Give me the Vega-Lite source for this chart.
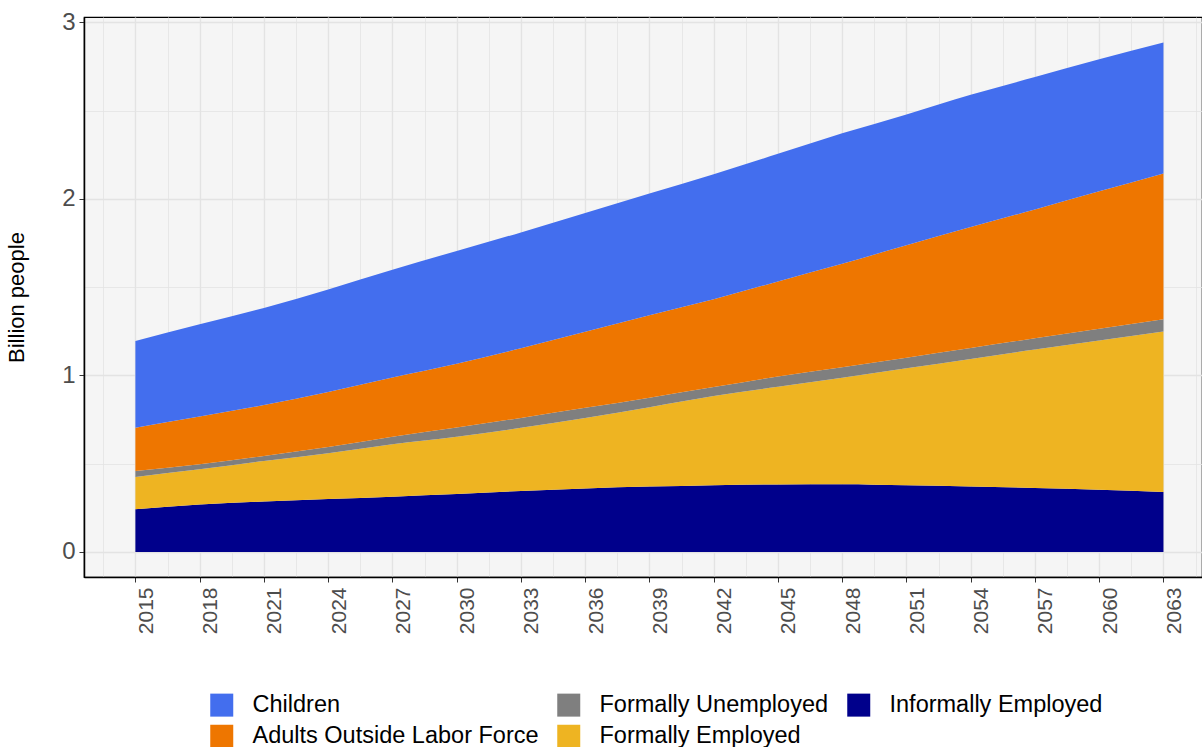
{
  "$schema": "https://vega.github.io/schema/vega-lite/v6.json",
  "width": 1118,
  "height": 560,
  "autosize": {"type": "none"},
  "padding": {"left": 84, "top": 17, "right": 0, "bottom": 170},
  "background": "white",
  "config": {
    "view": {"fill": "#F5F5F5", "stroke": "black", "strokeWidth": 1.2},
    "font": "Liberation Sans"
  },
  "data": {
    "values": [
      {"year": 2015, "group": "Informally Employed", "value": 0.242},
      {"year": 2015, "group": "Formally Employed", "value": 0.183},
      {"year": 2015, "group": "Formally Unemployed", "value": 0.034},
      {"year": 2015, "group": "Adults Outside Labor Force", "value": 0.245},
      {"year": 2015, "group": "Children", "value": 0.491},
      {"year": 2018, "group": "Informally Employed", "value": 0.268},
      {"year": 2018, "group": "Formally Employed", "value": 0.200},
      {"year": 2018, "group": "Formally Unemployed", "value": 0.029},
      {"year": 2018, "group": "Adults Outside Labor Force", "value": 0.270},
      {"year": 2018, "group": "Children", "value": 0.522},
      {"year": 2021, "group": "Informally Employed", "value": 0.286},
      {"year": 2021, "group": "Formally Employed", "value": 0.229},
      {"year": 2021, "group": "Formally Unemployed", "value": 0.029},
      {"year": 2021, "group": "Adults Outside Labor Force", "value": 0.288},
      {"year": 2021, "group": "Children", "value": 0.550},
      {"year": 2024, "group": "Informally Employed", "value": 0.300},
      {"year": 2024, "group": "Formally Employed", "value": 0.259},
      {"year": 2024, "group": "Formally Unemployed", "value": 0.036},
      {"year": 2024, "group": "Adults Outside Labor Force", "value": 0.311},
      {"year": 2024, "group": "Children", "value": 0.581},
      {"year": 2027, "group": "Informally Employed", "value": 0.313},
      {"year": 2027, "group": "Formally Employed", "value": 0.297},
      {"year": 2027, "group": "Formally Unemployed", "value": 0.043},
      {"year": 2027, "group": "Adults Outside Labor Force", "value": 0.335},
      {"year": 2027, "group": "Children", "value": 0.610},
      {"year": 2030, "group": "Informally Employed", "value": 0.328},
      {"year": 2030, "group": "Formally Employed", "value": 0.324},
      {"year": 2030, "group": "Formally Unemployed", "value": 0.053},
      {"year": 2030, "group": "Adults Outside Labor Force", "value": 0.361},
      {"year": 2030, "group": "Children", "value": 0.639},
      {"year": 2033, "group": "Informally Employed", "value": 0.345},
      {"year": 2033, "group": "Formally Employed", "value": 0.358},
      {"year": 2033, "group": "Formally Unemployed", "value": 0.056},
      {"year": 2033, "group": "Adults Outside Labor Force", "value": 0.395},
      {"year": 2033, "group": "Children", "value": 0.656},
      {"year": 2036, "group": "Informally Employed", "value": 0.360},
      {"year": 2036, "group": "Formally Employed", "value": 0.399},
      {"year": 2036, "group": "Formally Unemployed", "value": 0.057},
      {"year": 2036, "group": "Adults Outside Labor Force", "value": 0.431},
      {"year": 2036, "group": "Children", "value": 0.673},
      {"year": 2039, "group": "Informally Employed", "value": 0.370},
      {"year": 2039, "group": "Formally Employed", "value": 0.450},
      {"year": 2039, "group": "Formally Unemployed", "value": 0.054},
      {"year": 2039, "group": "Adults Outside Labor Force", "value": 0.466},
      {"year": 2039, "group": "Children", "value": 0.690},
      {"year": 2042, "group": "Informally Employed", "value": 0.378},
      {"year": 2042, "group": "Formally Employed", "value": 0.505},
      {"year": 2042, "group": "Formally Unemployed", "value": 0.051},
      {"year": 2042, "group": "Adults Outside Labor Force", "value": 0.497},
      {"year": 2042, "group": "Children", "value": 0.709},
      {"year": 2045, "group": "Informally Employed", "value": 0.382},
      {"year": 2045, "group": "Formally Employed", "value": 0.553},
      {"year": 2045, "group": "Formally Unemployed", "value": 0.059},
      {"year": 2045, "group": "Adults Outside Labor Force", "value": 0.538},
      {"year": 2045, "group": "Children", "value": 0.723},
      {"year": 2048, "group": "Informally Employed", "value": 0.383},
      {"year": 2048, "group": "Formally Employed", "value": 0.603},
      {"year": 2048, "group": "Formally Unemployed", "value": 0.060},
      {"year": 2048, "group": "Adults Outside Labor Force", "value": 0.586},
      {"year": 2048, "group": "Children", "value": 0.739},
      {"year": 2051, "group": "Informally Employed", "value": 0.377},
      {"year": 2051, "group": "Formally Employed", "value": 0.663},
      {"year": 2051, "group": "Formally Unemployed", "value": 0.060},
      {"year": 2051, "group": "Adults Outside Labor Force", "value": 0.637},
      {"year": 2051, "group": "Children", "value": 0.741},
      {"year": 2054, "group": "Informally Employed", "value": 0.370},
      {"year": 2054, "group": "Formally Employed", "value": 0.723},
      {"year": 2054, "group": "Formally Unemployed", "value": 0.062},
      {"year": 2054, "group": "Adults Outside Labor Force", "value": 0.685},
      {"year": 2054, "group": "Children", "value": 0.750},
      {"year": 2057, "group": "Informally Employed", "value": 0.362},
      {"year": 2057, "group": "Formally Employed", "value": 0.784},
      {"year": 2057, "group": "Formally Unemployed", "value": 0.064},
      {"year": 2057, "group": "Adults Outside Labor Force", "value": 0.730},
      {"year": 2057, "group": "Children", "value": 0.750},
      {"year": 2060, "group": "Informally Employed", "value": 0.352},
      {"year": 2060, "group": "Formally Employed", "value": 0.846},
      {"year": 2060, "group": "Formally Unemployed", "value": 0.066},
      {"year": 2060, "group": "Adults Outside Labor Force", "value": 0.779},
      {"year": 2060, "group": "Children", "value": 0.747},
      {"year": 2063, "group": "Informally Employed", "value": 0.340},
      {"year": 2063, "group": "Formally Employed", "value": 0.908},
      {"year": 2063, "group": "Formally Unemployed", "value": 0.070},
      {"year": 2063, "group": "Adults Outside Labor Force", "value": 0.826},
      {"year": 2063, "group": "Children", "value": 0.741}
    ]
  },
  "transform": [
    {"calculate": "indexof(['Informally Employed','Formally Employed','Formally Unemployed','Adults Outside Labor Force','Children'], datum.group)", "as": "stackOrder"}
  ],
  "mark": {"type": "area", "interpolate": "monotone"},
  "encoding": {
    "x": {
      "field": "year",
      "type": "quantitative",
      "scale": {"domain": [2012.6, 2064.8], "nice": false, "zero": false},
      "axis": {
        "title": null,
        "values": [2013.5, 2015, 2016.5, 2018, 2019.5, 2021, 2022.5, 2024, 2025.5, 2027, 2028.5, 2030, 2031.5, 2033, 2034.5, 2036, 2037.5, 2039, 2040.5, 2042, 2043.5, 2045, 2046.5, 2048, 2049.5, 2051, 2052.5, 2054, 2055.5, 2057, 2058.5, 2060, 2061.5, 2063, 2064.5],
        "labelExpr": "(datum.value - 2015) % 3 === 0 ? toString(datum.value) : ''",
        "labelAngle": 270,
        "labelAlign": "right",
        "labelBaseline": "top",
        "labelFontSize": 21,
        "labelColor": "#4D4D4D",
        "labelPadding": 5,
        "labelOverlap": false,
        "labelFlush": false,
        "domainColor": "black",
        "domainWidth": 1.5,
        "tickColor": "#333333",
        "tickSize": 5,
        "tickWidth": 1,
        "tickOpacity": {"condition": {"test": "(datum.value - 2015) % 3 === 0", "value": 1}, "value": 0},
        "grid": true,
        "gridColor": "#E3E3E3",
        "gridWidth": {"condition": {"test": "(datum.value - 2015) % 3 === 0", "value": 1.4}, "value": 0.8}
      }
    },
    "y": {
      "field": "value",
      "type": "quantitative",
      "stack": "zero",
      "scale": {"domain": [-0.142, 3.03], "nice": false, "zero": false},
      "axis": {
        "title": "Billion people",
        "titleFontSize": 22,
        "titleFontWeight": "normal",
        "titleColor": "black",
        "titlePadding": 33,
        "values": [0, 0.5, 1, 1.5, 2, 2.5, 3],
        "labelExpr": "datum.value % 1 === 0 ? toString(datum.value) : ''",
        "labelFontSize": 24,
        "labelColor": "#4D4D4D",
        "labelPadding": 4,
        "domainColor": "black",
        "domainWidth": 1.5,
        "tickColor": "#333333",
        "tickSize": 5,
        "tickWidth": 1,
        "tickOpacity": {"condition": {"test": "datum.value % 1 === 0", "value": 1}, "value": 0},
        "grid": true,
        "gridColor": "#E3E3E3",
        "gridWidth": {"condition": {"test": "datum.value % 1 === 0", "value": 1.4}, "value": 0.8}
      }
    },
    "color": {
      "field": "group",
      "type": "nominal",
      "scale": {
        "domain": ["Children", "Formally Unemployed", "Informally Employed", "Adults Outside Labor Force", "Formally Employed"],
        "range": ["#436EEE", "#7F7F7F", "#00008B", "#EE7600", "#EEB422"]
      },
      "legend": {
        "title": null,
        "orient": "none",
        "legendX": 126,
        "legendY": 676,
        "direction": "horizontal",
        "columns": 3,
        "symbolType": "square",
        "symbolSize": 529,
        "symbolStrokeWidth": 0,
        "symbolOpacity": 1,
        "labelFontSize": 23.5,
        "labelColor": "black",
        "labelOffset": 19,
        "columnPadding": 18,
        "rowPadding": 6.5,
        "padding": 0,
        "labelLimit": 400
      }
    },
    "order": {"field": "stackOrder", "type": "quantitative"}
  }
}
